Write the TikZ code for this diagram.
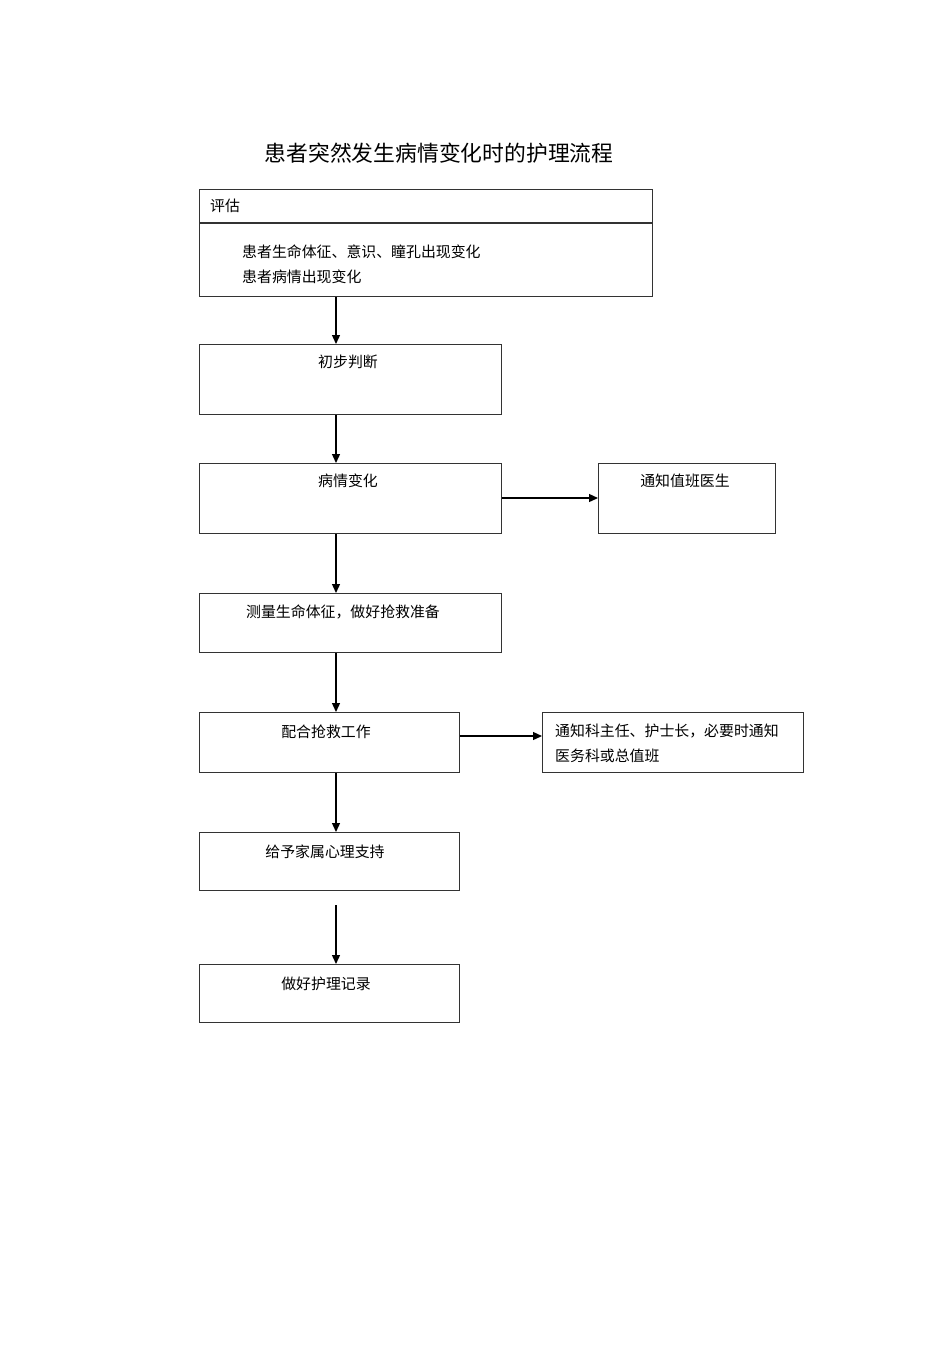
\documentclass[tikz,border=0pt]{standalone}
\usepackage{fontspec}
\setmainfont{Noto Sans CJK SC}
\usetikzlibrary{arrows.meta,calc}
\tikzset{
  box/.style={draw=black!80, line width=1.2pt, anchor=north west, inner sep=0pt},
  txt/.style={anchor=north, inner sep=0pt, font=\fontsize{14.9}{24}\selectfont},
  ltxt/.style={anchor=north west, inner sep=0pt, align=left, font=\fontsize{14.9}{24.5}\selectfont},
  arr/.style={line width=1.3pt, -{Triangle[length=9pt,width=8pt]}}
}
\begin{document}
\begin{tikzpicture}[x=1pt,y=-1pt]
\useasboundingbox (0,0) rectangle (950,1345);
\node[anchor=center, inner sep=0pt, font=\fontsize{21.8}{24}\selectfont] (title) at (439,153) {患者突然发生病情变化时的护理流程};
% box 1
\node[box, minimum width=453pt, minimum height=107pt] (b1) at (199,189) {};
\coordinate (d1) at (199,223);
\coordinate (d2) at (652,223);
\draw[draw=black!80, line width=1.2pt] (d1) -- (d2);
\node[ltxt] (t1a) at (210,199) {评估};
\node[ltxt] (t1b) at (242,245) {患者生命体征、意识、瞳孔出现变化\\患者病情出现变化};
% main column
\node[box, minimum width=302pt, minimum height=70pt] (b2) at (199,344) {};
\node[txt] (t2) at (348,355) {初步判断};
\node[box, minimum width=302pt, minimum height=70pt] (b3) at (199,463) {};
\node[txt] (t3) at (348,474) {病情变化};
\node[box, minimum width=177pt, minimum height=70pt] (r3) at (598,463) {};
\node[txt] (tr3) at (685,474) {通知值班医生};
\node[box, minimum width=302pt, minimum height=59pt] (b4) at (199,593) {};
\node[txt] (t4) at (343,605) {测量生命体征，做好抢救准备};
\node[box, minimum width=260pt, minimum height=60pt] (b5) at (199,712) {};
\node[txt] (t5) at (326,725) {配合抢救工作};
\node[box, minimum width=261pt, minimum height=60pt] (r5) at (542,712) {};
\node[ltxt] (tr5) at (555,724) {通知科主任、护士长，必要时通知\\医务科或总值班};
\node[box, minimum width=260pt, minimum height=58pt] (b6) at (199,832) {};
\node[txt] (t6) at (325,845) {给予家属心理支持};
\node[box, minimum width=260pt, minimum height=58pt] (b7) at (199,964) {};
\node[txt] (t7) at (326,977) {做好护理记录};
% arrows
\coordinate (ax) at (336,0);
\coordinate (s7) at (336,905);
\coordinate (y3) at (0,498);
\coordinate (y5) at (0,736);
\draw[arr] (b1.south -| ax) -- (b2.north -| ax);
\draw[arr] (b2.south -| ax) -- (b3.north -| ax);
\draw[arr] (b3.south -| ax) -- (b4.north -| ax);
\draw[arr] (b4.south -| ax) -- (b5.north -| ax);
\draw[arr] (b5.south -| ax) -- (b6.north -| ax);
\draw[arr] (s7) -- (b7.north -| ax);
\draw[arr] (b3.east |- y3) -- (r3.west |- y3);
\draw[arr] (b5.east |- y5) -- (r5.west |- y5);
\end{tikzpicture}
\end{document}
